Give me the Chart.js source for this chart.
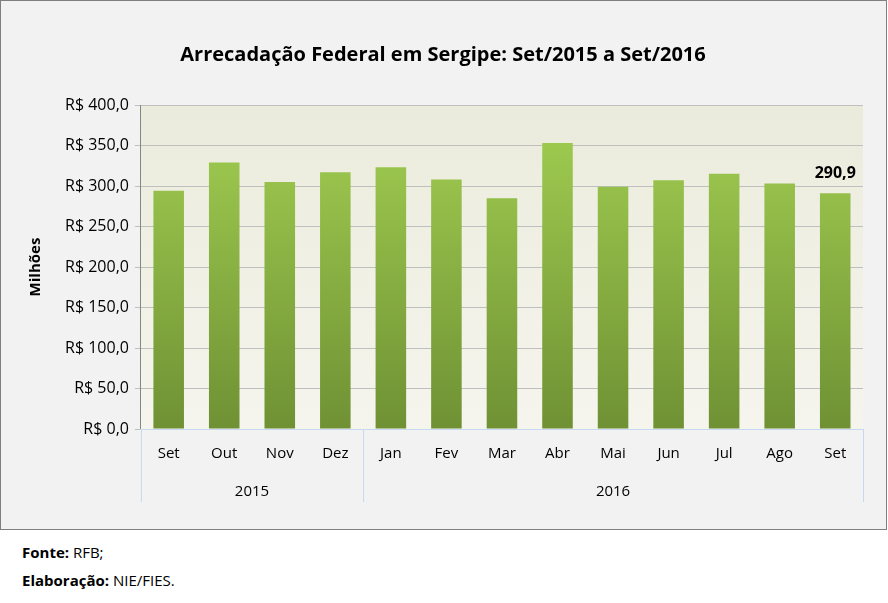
<!DOCTYPE html>
<html>
<head>
<meta charset="utf-8">
<script src="https://cdn.jsdelivr.net/npm/chart.js@4"></script>
<style>
  body { margin: 0; background: #fff; font-family: "Open Sans", sans-serif; }
  #frame { position: absolute; left: 0; top: 0; width: 885px; height: 528px; border: 1.5px solid #7f7f7f; background: #f2f2f2; }
  #footer { position: absolute; left: 22px; top: 538px; font-size: 15px; line-height: 28px; color: #000; }
</style>
</head>
<body>
<div id="frame"><canvas id="c" width="885" height="528"></canvas></div>
<div id="footer"><b>Fonte:</b> RFB;<br><b>Elaboração:</b> NIE/FIES.</div>
<script>
const months = ['Set', 'Out', 'Nov', 'Dez', 'Jan', 'Fev', 'Mar', 'Abr', 'Mai', 'Jun', 'Jul', 'Ago', 'Set'];
const years = [{ label: '2015', from: 0, to: 3 }, { label: '2016', from: 4, to: 12 }];
const values = [294, 329, 305, 317, 323, 308, 285, 353, 299, 307, 315, 303, 290.9];

const fmt = v => 'R$ ' + v.toFixed(1).replace('.', ',');

// plot background, year row, last value label
const extras = {
    id: 'extras',
    beforeDraw(chart) {
        const { ctx, chartArea: a } = chart;
        const g = ctx.createLinearGradient(0, a.top, 0, a.bottom);
        g.addColorStop(0, '#ebebdc');
        g.addColorStop(1, '#f5f5ee');
        ctx.fillStyle = g;
        ctx.fillRect(a.left, a.top, a.right - a.left, a.bottom - a.top);
    },
    afterDraw(chart) {
        const { ctx, chartArea: a, scales: { x, y } } = chart;
        const step = x.getPixelForValue(1) - x.getPixelForValue(0);
        ctx.save();
        ctx.strokeStyle = '#c6d9f1';
        ctx.lineWidth = 1;
        const bottom = a.bottom + 73;
        const edges = [a.left, x.getPixelForValue(3) + step / 2, a.right];
        edges.forEach(px => {
            ctx.beginPath();
            ctx.moveTo(px + 0.5, a.bottom);
            ctx.lineTo(px + 0.5, bottom);
            ctx.stroke();
        });
        ctx.fillStyle = '#000';
        ctx.font = '15px "Open Sans"';
        ctx.textAlign = 'center';
        ctx.textBaseline = 'middle';
        years.forEach(yr => {
            const cx = (x.getPixelForValue(yr.from) + x.getPixelForValue(yr.to)) / 2;
            ctx.fillText(yr.label, cx, a.bottom + 63);
        });
        const last = values.length - 1;
        ctx.font = 'bold 16px "Open Sans"';
        ctx.fillText(values[last].toFixed(1).replace('.', ','), x.getPixelForValue(last), y.getPixelForValue(values[last]) - 20);
        ctx.restore();
    }
};

const ctx = document.getElementById('c').getContext('2d');
new Chart(ctx, {
    type: 'bar',
    data: {
        labels: months,
        datasets: [{
            data: values,
            backgroundColor: c => {
                const a = c.chart.chartArea;
                if (!a) return '#8cb545';
                const g = c.chart.ctx.createLinearGradient(0, a.top, 0, a.bottom);
                g.addColorStop(0, '#a3d052');
                g.addColorStop(1, '#6f9134');
                return g;
            },
            barPercentage: 0.55,
            categoryPercentage: 1,
        }],
    },
    options: {
        responsive: false,
        animation: false,
        layout: { padding: { left: 22, right: 23, top: 0, bottom: 58 } },
        plugins: {
            legend: { display: false },
            tooltip: { enabled: false },
            title: {
                display: true,
                text: 'Arrecadação Federal em Sergipe: Set/2015 a Set/2016',
                color: '#000',
                font: { family: '"Open Sans"', size: 20, weight: 'bold' },
                padding: { top: 42, bottom: 38 },
            },
        },
        scales: {
            y: {
                min: 0, max: 400,
                ticks: { stepSize: 50, color: '#000', font: { family: '"Open Sans"', size: 16 }, callback: v => fmt(v), padding: 6 },
                grid: { color: '#bfbfbf', drawTicks: true, tickLength: 6 },
                border: { color: '#868686' },
                title: { display: true, text: 'Milhões', color: '#000', font: { family: '"Open Sans"', size: 15, weight: 'bold' }, padding: { bottom: 14 } },
            },
            x: {
                ticks: { color: '#000', font: { family: '"Open Sans"', size: 15 }, padding: 8 },
                grid: { display: false },
                border: { color: '#c6d9f1' },
            },
        },
    },
    plugins: [extras],
});
</script>
</body>
</html>
